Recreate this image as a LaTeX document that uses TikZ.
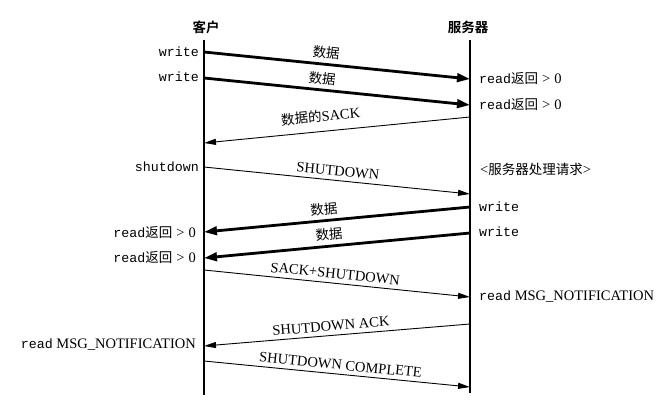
\documentclass[tikz,border=0pt]{standalone}
\usepackage{fontspec}
\setmainfont{Liberation Serif}
\setmonofont{Liberation Mono}
\newfontfamily\cjk{Noto Sans CJK SC}[BoldFont={Noto Sans CJK SC Bold}]
\usetikzlibrary{arrows.meta}
\newcommand{\tw}[1]{{\ttfamily\fontsize{13.3}{15}\selectfont #1}}
\newcommand{\zh}[1]{{\cjk\fontsize{13.5}{15}\selectfont #1}}
\newcommand{\rdret}{\tw{read}\zh{返回}\hspace{4pt}>\hspace{4pt}0}
\begin{document}
\begin{tikzpicture}[x=1pt,y=-1pt,
  life/.style={line width=1.1pt},
  heavy/.style={line width=2.8pt,-{Triangle[length=13pt,width=8.5pt]}},
  light/.style={line width=0.9pt,-{Triangle[length=12pt,width=6pt]}},
  lbl/.style={sloped,above=3pt,inner sep=1pt,font=\fontsize{14.5}{16}\selectfont},
  lside/.style={anchor=east,inner sep=0pt,font=\fontsize{14.5}{16}\selectfont},
  rside/.style={anchor=west,inner sep=0pt,font=\fontsize{14.5}{16}\selectfont},
  head/.style={inner sep=0pt,font=\cjk\bfseries\fontsize{13.5}{15}\selectfont}]
\useasboundingbox (0,0) rectangle (666,402);
\fill[white] (0,0) rectangle (666,402);

% headers and lifelines
\node[head] (hc) at (206,27) {客户};
\node[head] (hs) at (468,27) {服务器};
\coordinate (ctop) at (204,40); \coordinate (cbot) at (204,395);
\coordinate (stop) at (470,40); \coordinate (sbot) at (470,393);
\draw[life] (ctop) -- (cbot);
\draw[life] (stop) -- (sbot);

% endpoints
\coordinate (c1) at (204,52);  \coordinate (s1) at (470,79);
\coordinate (c2) at (204,78);  \coordinate (s2) at (470,105);
\coordinate (s3) at (470,117); \coordinate (c3) at (204,143);
\coordinate (c4) at (204,167); \coordinate (s4) at (470,194);
\coordinate (s5) at (470,207); \coordinate (c5) at (204,232);
\coordinate (s6) at (470,233); \coordinate (c6) at (204,258);
\coordinate (c7) at (204,270); \coordinate (s7) at (470,297);
\coordinate (s8) at (470,324); \coordinate (c8) at (204,346);
\coordinate (c9) at (204,361); \coordinate (s9) at (470,387);

% messages
\draw[heavy] (c1) -- node[lbl,pos=.455] (m1) {\zh{数据}} (s1);
\draw[heavy] (c2) -- node[lbl,pos=.44] (m2) {\zh{数据}} (s2);
\draw[light] (s3) -- node[lbl,pos=.556,above=4.5pt] (m3) {\zh{数据的}SACK} (c3);
\draw[light] (c4) -- node[lbl,pos=.5] (m4) {SHUTDOWN} (s4);
\draw[heavy] (s5) -- node[lbl,pos=.545] (m5) {\zh{数据}} (c5);
\draw[heavy] (s6) -- node[lbl,pos=.526] (m6) {\zh{数据}} (c6);
\draw[light] (c7) -- node[lbl,pos=.49] (m7) {SACK+SHUTDOWN} (s7);
\draw[light] (s8) -- node[lbl,pos=.52] (m8) {SHUTDOWN ACK} (c8);
\draw[light] (c9) -- node[lbl,pos=.51] (m9) {SHUTDOWN COMPLETE} (s9);

% client side labels
\node[lside] (l1) at (199,52) {\tw{write}};
\node[lside] (l2) at (199,77) {\tw{write}};
\node[lside] (l3) at (199,167) {\tw{shutdown}};
\node[lside] (l4) at (196,232) {\rdret};
\node[lside] (l5) at (196,257) {\rdret};
\node[lside] (l6) at (196,345) {\tw{read} MSG\_NOTIFICATION};

% server side labels
\node[rside] (r1) at (479,78) {\rdret};
\node[rside] (r2) at (479,104) {\rdret};
\node[rside] (r3) at (480,169) {<\zh{服务器处理请求}>};
\node[rside] (r4) at (479,207) {\tw{write}};
\node[rside] (r5) at (479,232) {\tw{write}};
\node[rside] (r6) at (479,297) {\tw{read} MSG\_NOTIFICATION};
\end{tikzpicture}
\end{document}
